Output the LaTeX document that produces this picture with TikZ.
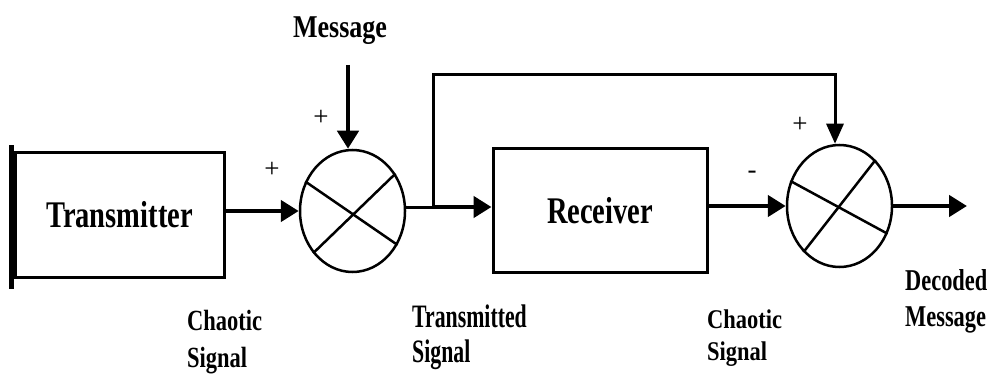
\documentclass[tikz,border=0pt]{standalone}
\usepackage{fontspec}
\setmainfont{Liberation Serif}
\usetikzlibrary{arrows.meta,shapes.geometric}
% vertically stretched text
\newcommand\stretchy[2]{\scalebox{1}[#1]{#2}}

\begin{document}
\begin{tikzpicture}[x=1pt,y=-1pt,
  box/.style={draw, line width=3pt, minimum width=209pt, minimum height=124pt,
    inner sep=0pt, font=\fontsize{28.5}{30}\selectfont\bfseries},
  mixer/.style={draw, ellipse, line width=2.5pt, minimum width=105pt,
    minimum height=122pt, inner sep=0pt},
  cross/.style={line width=2.5pt},
  wire/.style={line width=3pt},
  arr/.style={line width=4.5pt, -{Triangle[length=18pt,width=21pt]}},
  farr/.style={line width=3pt, -{Triangle[length=20pt,width=17pt]}},
  lbl/.style={anchor=base west, inner sep=0pt, font=\fontsize{22.5}{24}\selectfont\bfseries},
  sign/.style={inner sep=0pt, font=\fontsize{27}{29}\selectfont}]
\useasboundingbox (0,0) rectangle (992,374);

% blocks
\node[box] (tx) at (119.5,215) {\stretchy{1.32}{Transmitter}};
\draw[line width=5pt] ([shift={(-2,-6)}]tx.north west) -- ([shift={(-2,10)}]tx.south west);
\node[box, minimum width=214pt, minimum height=123pt] (rx) at (600,210.5) {\stretchy{1.32}{Receiver}};

% mixers
\node[mixer] (c1) at (352.5,211) {};
\draw[cross] (c1.148) -- (c1.-37);
\draw[cross] (c1.41) -- (c1.227);
\node[mixer, minimum width=105pt, minimum height=122pt] (c2) at (839.5,206) {};
\draw[cross] (c2.153) -- (c2.-30);
\draw[cross] (c2.52) -- (c2.232);

% message input
\node[lbl, anchor=base, font=\fontsize{26}{28}\selectfont\bfseries] (msg) at (340,38) {\stretchy{1.22}{Message}};
\coordinate (mtop) at (348,65);
\draw[arr] (mtop) -- (mtop |- c1.north);

% transmitter to first mixer
\draw[arr] (c1.west -| tx.east) -- (c1.west);

% transmitted signal: to receiver and fed forward to second mixer
\coordinate (j) at (433,207);
\coordinate (fb) at (835,75);
\draw[wire] (c1.east |- j) -- (j);
\draw[arr] (j) -- (j -| rx.west);
\draw[farr] (j) |- (fb) -- (fb |- c2.north);

% receiver to second mixer, and output
\draw[arr] (c2.west -| rx.east) -- (c2.west);
\coordinate (out) at (967,206);
\draw[arr] (c2.east) -- (out);

% signs
\node[sign] (p1) at (272,170) {+};
\node[sign] (p2) at (321,118) {+};
\node[sign] (p3) at (800,125) {+};
\node[sign] (m1) at (752,175) {-};

% signal labels
\node[lbl] (ch1a) at (187,330) {\stretchy{1.3}{Chaotic}};
\node[lbl] (ch1b) at (187,367) {\stretchy{1.3}{Signal}};
\node[lbl, font=\fontsize{21.8}{24}\selectfont\bfseries] (tsa) at (412,327) {\stretchy{1.5}{Transmitted}};
\node[lbl, font=\fontsize{21.8}{24}\selectfont\bfseries] (tsb) at (412,362) {\stretchy{1.5}{Signal}};
\node[lbl] (ch2a) at (707,328) {\stretchy{1.2}{Chaotic}};
\node[lbl] (ch2b) at (707,360) {\stretchy{1.2}{Signal}};
\node[lbl, font=\fontsize{22.4}{24}\selectfont\bfseries] (dma) at (905,290) {\stretchy{1.35}{Decoded}};
\node[lbl, font=\fontsize{22.4}{24}\selectfont\bfseries] (dmb) at (905,326) {\stretchy{1.35}{Message}};
\end{tikzpicture}
\end{document}
